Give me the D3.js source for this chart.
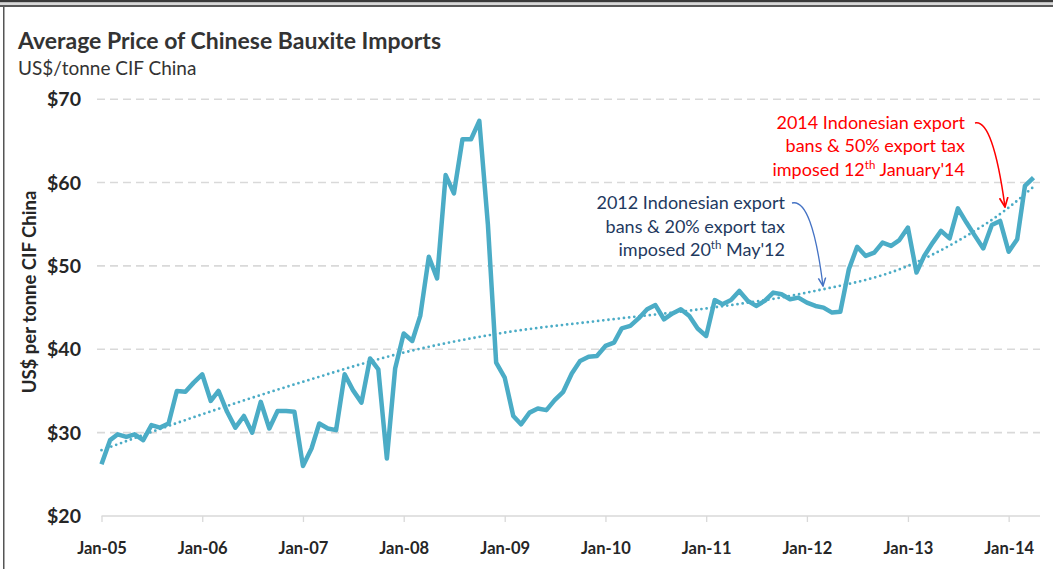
<!DOCTYPE html>
<html>
<head>
<meta charset="utf-8">
<title>Average Price of Chinese Bauxite Imports</title>
<script src="https://cdn.jsdelivr.net/npm/d3@7"></script>
<style>
  body { margin: 0; background: #fff; }
  svg { display: block; font-family: Lato, "Open Sans", sans-serif; }
</style>
</head>
<body>
<div id="chart"></div>
<script>
// monthly average price, US$/tonne CIF China, starting Jan-05
var firstMonth = new Date(2005, 0, 1);
var price2005 = [26.2, 29.1, 29.8, 29.5, 29.8, 29.1, 30.9, 30.6, 31.1, 35.0, 34.9, 36.0];
var price2006 = [37.0, 33.8, 35.0, 32.5, 30.6, 32.0, 30.0, 33.7, 30.5, 32.6, 32.6, 32.5];
var price2007 = [26.0, 28.1, 31.1, 30.5, 30.3, 37.0, 35.1, 33.6, 38.9, 37.6, 26.9, 37.7];
var price2008 = [41.9, 41.0, 44.0, 51.1, 48.5, 60.9, 58.7, 65.2, 65.2, 67.4, 55.0, 38.4];
var price2009 = [36.6, 32.0, 31.0, 32.4, 32.9, 32.7, 33.9, 34.9, 37.1, 38.6, 39.1, 39.2];
var price2010 = [40.4, 40.8, 42.5, 42.8, 43.7, 44.8, 45.3, 43.6, 44.3, 44.8, 44.0, 42.5];
var price2011 = [41.6, 45.9, 45.4, 45.9, 47.0, 45.8, 45.2, 45.8, 46.8, 46.6, 46.0, 46.2];
var price2012 = [45.6, 45.2, 45.0, 44.4, 44.5, 49.6, 52.3, 51.2, 51.6, 52.8, 52.4, 53.1];
var price2013 = [54.6, 49.2, 51.2, 52.8, 54.2, 53.3, 56.9, 55.2, 53.6, 52.1, 54.9, 55.4];
var price2014 = [51.7, 53.2, 59.6, 60.6];

// dotted trend line (month index from Jan-05, value)
var trendMonth = [0, 12, 24, 36, 48, 60, 72, 84, 96, 102, 108, 111];
var trendValue = [27.9, 32.2, 36.1, 39.6, 42.0, 43.5, 44.9, 46.8, 50.0, 53.0, 57.0, 59.5];

var yTicks = [20, 30, 40, 50, 60, 70];
var yearTicks = d3.range(2005, 2015);

var note2012 = ["2012 Indonesian export", "bans & 20% export tax", ["imposed 20", "th", " May'12"]];
var note2014 = ["2014 Indonesian export", "bans & 50% export tax", ["imposed 12", "th", " January'14"]];

var prices = [].concat(price2005, price2006, price2007, price2008, price2009,
                       price2010, price2011, price2012, price2013, price2014);
var series = prices.map(function(v, i) {
  return { date: d3.timeMonth.offset(firstMonth, i), value: v };
});
var trend = trendMonth.map(function(m, i) {
  return { date: d3.timeMonth.offset(firstMonth, m), value: trendValue[i] };
});

var width = 1053, height = 569;
var svg = d3.select("#chart").append("svg")
  .attr("width", width).attr("height", height);

// spreadsheet frame round the picture
svg.append("rect").attr("x", 0).attr("y", 0).attr("width", width).attr("height", 2.5).attr("fill", "#3a3a3a");
svg.append("rect").attr("x", 0).attr("y", 5).attr("width", width).attr("height", 2).attr("fill", "#5a5a5a");
svg.append("rect").attr("x", 0).attr("y", 2.5).attr("width", width).attr("height", 2.5).attr("fill", "#d8d8d8");
svg.append("rect").attr("x", 3).attr("y", 7).attr("width", 1.5).attr("height", height - 7).attr("fill", "#555");

var x = d3.scaleTime()
  .domain([firstMonth, series[series.length - 1].date])
  .range([101.5, 1033.5]);
var y = d3.scaleLinear().domain([20, 70]).range([516, 99.2]);

var plotRight = 1040;

// gridlines
svg.append("g").selectAll("line")
  .data(yTicks.filter(function(d) { return d > 20; }))
  .join("line")
  .attr("x1", 97).attr("x2", plotRight)
  .attr("y1", function(d) { return y(d); }).attr("y2", function(d) { return y(d); })
  .attr("stroke", "#d9d9d9").attr("stroke-width", 1.6)
  .attr("stroke-dasharray", "8,5");

// x axis
var xAxis = d3.axisBottom(x)
  .tickValues(yearTicks.map(function(yr) { return new Date(yr, 0, 1); }))
  .tickFormat(d3.timeFormat("%b-%y"))
  .tickSize(6).tickSizeOuter(0);
var gx = svg.append("g").attr("transform", "translate(0," + y(20) + ")").call(xAxis);
gx.select(".domain").attr("d", "M" + x(firstMonth) + ",0H" + plotRight)
  .attr("stroke", "#d9d9d9").attr("stroke-width", 1.6);
gx.selectAll(".tick line").attr("stroke", "#d9d9d9").attr("stroke-width", 1.3);
gx.selectAll(".tick text")
  .attr("y", 26).attr("fill", "#262626")
  .attr("font-family", "Lato, sans-serif").attr("font-weight", "bold").attr("font-size", 16.5);

// y labels
svg.append("g").selectAll("text")
  .data(yTicks)
  .join("text")
  .attr("x", 81).attr("y", function(d) { return y(d) + 7; })
  .attr("text-anchor", "end")
  .attr("font-weight", "bold").attr("font-size", 19.5).attr("fill", "#262626")
  .text(function(d) { return "$" + d; });

svg.append("text")
  .attr("transform", "translate(36,292) rotate(-90)")
  .attr("text-anchor", "middle")
  .attr("font-weight", "bold").attr("font-size", 18.5).attr("fill", "#262626")
  .text("US$ per tonne CIF China");

// title
svg.append("text").attr("x", 18).attr("y", 49)
  .attr("font-weight", "bold").attr("font-size", 23).attr("fill", "#333")
  .text("Average Price of Chinese Bauxite Imports");
svg.append("text").attr("x", 18).attr("y", 74.5)
  .attr("font-size", 19).attr("fill", "#333")
  .text("US$/tonne CIF China");

// trend
svg.append("path")
  .datum(trend)
  .attr("fill", "none").attr("stroke", "#4bacc6").attr("stroke-width", 2.8)
  .attr("stroke-linecap", "round").attr("stroke-dasharray", "0,5.2")
  .attr("d", d3.line()
    .x(function(d) { return x(d.date); })
    .y(function(d) { return y(d.value); })
    .curve(d3.curveMonotoneX));

// price line
svg.append("path")
  .datum(series)
  .attr("fill", "none").attr("stroke", "#4bacc6").attr("stroke-width", 4.5)
  .attr("stroke-linejoin", "round")
  .attr("d", d3.line()
    .x(function(d) { return x(d.date); })
    .y(function(d) { return y(d.value); }));

// annotations
var defs = svg.append("defs");
function arrowHead(id, color) {
  defs.append("marker").attr("id", id)
    .attr("viewBox", "0 0 10 10").attr("refX", 9).attr("refY", 5)
    .attr("markerWidth", 7).attr("markerHeight", 7).attr("orient", "auto")
    .append("path").attr("d", "M0,1 L9,5 L0,9").attr("fill", "none")
    .attr("stroke", color).attr("stroke-width", 1.6);
}
arrowHead("arrBlue", "#4472c4");
arrowHead("arrRed", "#ff0000");

function note(lines, right, top, color) {
  var g = svg.append("g");
  lines.forEach(function(line, i) {
    var t = g.append("text").attr("x", right).attr("y", top + i * 23.6)
      .attr("text-anchor", "end").attr("font-size", 18).attr("fill", color);
    if (typeof line === "string") {
      t.text(line);
    } else {
      t.append("tspan").text(line[0]);
      t.append("tspan").attr("font-size", 11.5).attr("dy", -7).text(line[1]);
      t.append("tspan").attr("dy", 7).text(line[2]);
    }
  });
}
note(note2012, 785, 209, "#1f3a5f");
note(note2014, 965, 128.5, "#ff0000");

svg.append("path")
  .attr("d", "M792,203 Q812,198 823,286")
  .attr("fill", "none").attr("stroke", "#4472c4").attr("stroke-width", 1.3)
  .attr("marker-end", "url(#arrBlue)");
svg.append("path")
  .attr("d", "M975,123 Q993,119 1005,207")
  .attr("fill", "none").attr("stroke", "#ff0000").attr("stroke-width", 1.5)
  .attr("marker-end", "url(#arrRed)");
</script>
</body>
</html>
